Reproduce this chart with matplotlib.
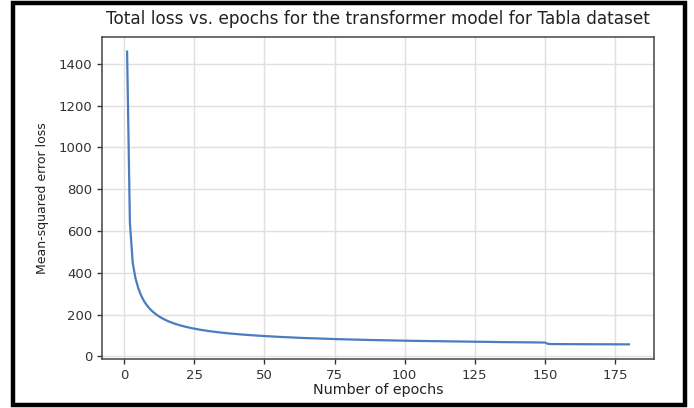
import matplotlib
matplotlib.use("Agg")
import matplotlib.pyplot as plt
from matplotlib.patches import Rectangle

epochs = list(range(1, 181))
loss = [
    1458.0, 640.0, 448.3, 373.8, 325.6, 291.4, 265.6, 245.5, 229.2, 215.8,
    204.5, 194.8, 186.3, 179.0, 172.4, 166.5, 161.3, 156.5, 152.2, 148.2,
    144.6, 141.3, 138.2, 135.3, 132.6, 130.1, 127.7, 125.5, 123.4, 121.5,
    119.7, 117.9, 116.3, 114.7, 113.2, 111.8, 110.5, 109.2, 108.0, 106.8,
    105.6, 104.6, 103.6, 102.6, 101.6, 100.7, 99.8, 98.9, 98.1, 97.3,
    96.5, 95.8, 95.1, 94.4, 93.7, 93.0, 92.3, 91.6, 90.8, 90.1,
    89.6, 89.1, 88.6, 88.1, 87.6, 87.1, 86.6, 86.0, 85.5, 85.0,
    84.6, 84.2, 83.8, 83.4, 83.0, 82.6, 82.2, 81.8, 81.4, 81.0,
    80.7, 80.3, 80.0, 79.7, 79.3, 79.0, 78.7, 78.4, 78.0, 77.7,
    77.4, 77.2, 76.9, 76.7, 76.4, 76.1, 75.9, 75.6, 75.4, 75.1,
    74.9, 74.6, 74.4, 74.2, 74.0, 73.7, 73.5, 73.3, 73.0, 72.8,
    72.6, 72.4, 72.2, 72.0, 71.8, 71.7, 71.5, 71.3, 71.1, 70.9,
    70.7, 70.6, 70.4, 70.2, 70.1, 69.9, 69.7, 69.6, 69.4, 69.2,
    69.1, 68.9, 68.8, 68.6, 68.5, 68.3, 68.2, 68.0, 67.9, 67.7,
    67.6, 67.5, 67.3, 67.2, 67.1, 66.9, 66.8, 66.7, 66.5, 66.4,
    60.4, 59.2, 59.0, 58.9, 58.8, 58.8, 58.7, 58.6, 58.6, 58.5,
    58.5, 58.4, 58.4, 58.3, 58.3, 58.2, 58.2, 58.1, 58.1, 58.0,
    58.0, 57.9, 57.9, 57.8, 57.8, 57.8, 57.7, 57.7, 57.6, 57.6,
]
xticks = [0, 25, 50, 75, 100, 125, 150, 175]
yticks = [0, 200, 400, 600, 800, 1000, 1200, 1400]

title = "Total loss vs. epochs for the transformer model for Tabla dataset"
xlabel = "Number of epochs"
ylabel = "Mean-squared error loss"

plt.rcParams['font.family'] = ['DejaVu Sans']
fig = plt.figure(figsize=(6.94, 4.08), dpi=100)
ax = fig.add_axes([102/694, 1-359/408, (654-102)/694, (359-37)/408])

ax.plot(epochs, loss, color='#4a7cc0', linewidth=1.6)
ax.set_xticks(xticks)
ax.set_yticks(yticks)
ax.grid(True, color='#e0e0e0', linewidth=1.0)
ax.set_axisbelow(True)
for s in ax.spines.values():
    s.set_color('#444444')
    s.set_linewidth(1.1)
ax.tick_params(labelsize=9.5, colors='#333333', length=3.5, width=1.0)
ax.set_title(title, fontsize=12.2, color='#222222', pad=9)
ax.set_xlabel(xlabel, fontsize=10.3, color='#222222', labelpad=1)
ax.set_ylabel(ylabel, fontsize=9, color='#222222', labelpad=7)

fig.patches.append(Rectangle((12.5/694, 1-405/408), (685-12.5)/694, (405-2.5)/408,
                             transform=fig.transFigure, fill=False,
                             edgecolor='black', linewidth=3.2))
fig.savefig('out.png', dpi=100)
